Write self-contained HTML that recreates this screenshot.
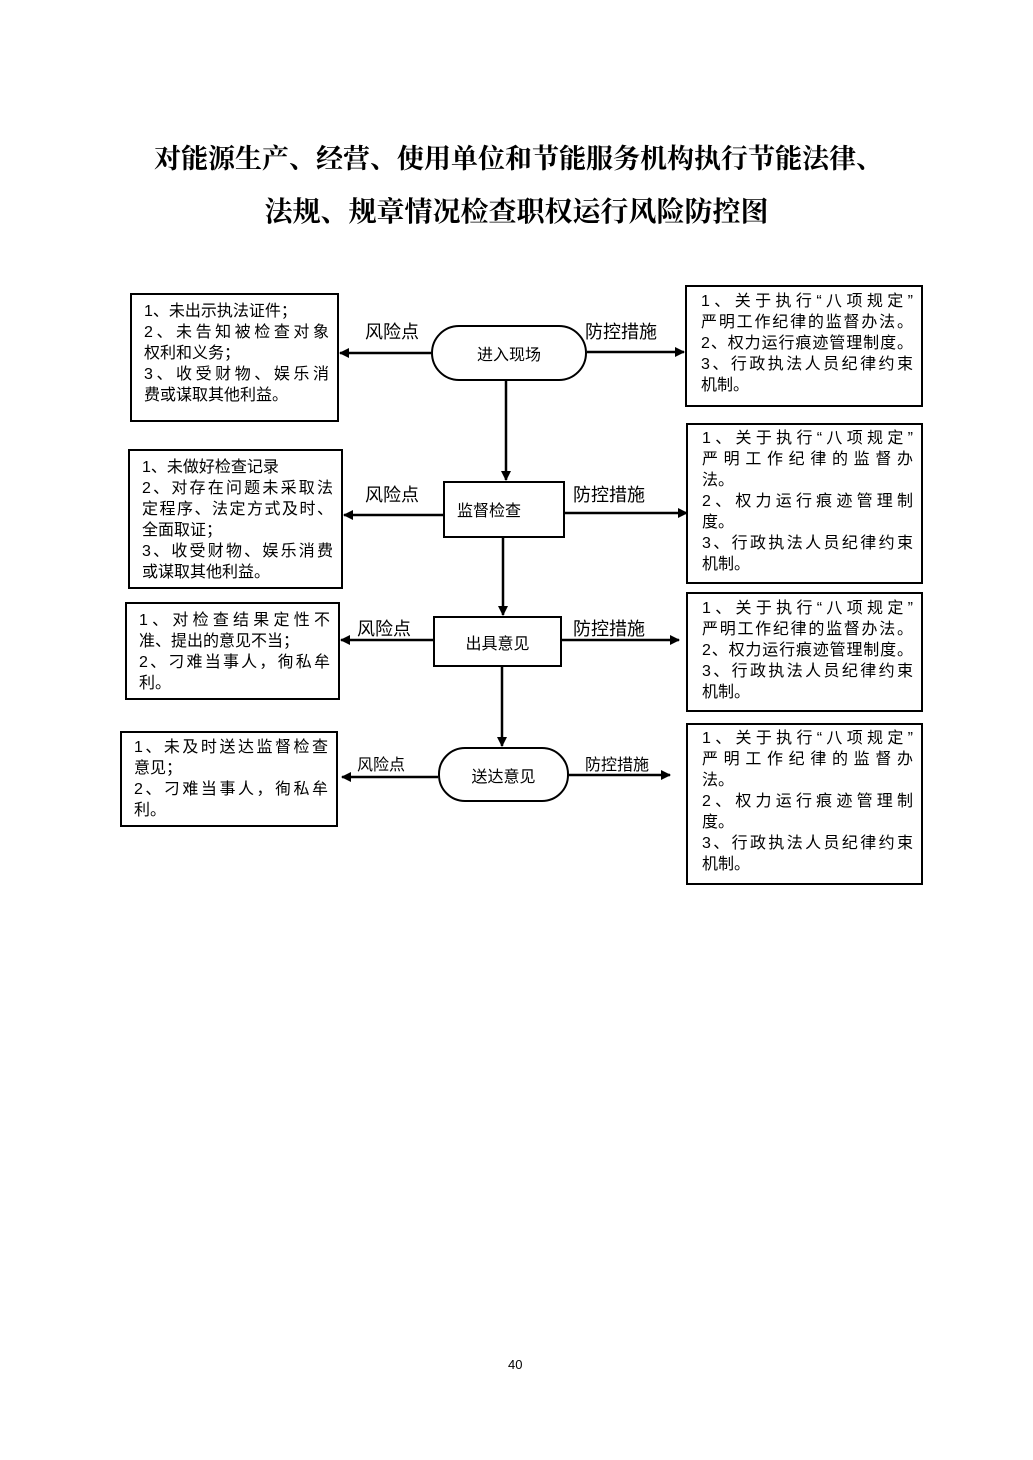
<!DOCTYPE html>
<html><head><meta charset="utf-8"><style>
body{margin:0;background:#fff;}
#p{position:relative;width:1033px;height:1460px;overflow:hidden;font-family:"Liberation Sans","Noto Sans CJK SC",sans-serif;color:#000;}
.t{position:absolute;left:0;width:1033px;text-align:center;font-size:28px;font-weight:bold;font-family:"Liberation Sans","Noto Serif CJK SC",serif;}
.b{position:absolute;border:2px solid #000;box-sizing:border-box;font-size:16px;line-height:21px;padding:4px 8px 0 12px;white-space:nowrap;}
.b div{height:21px;}
.j{text-align:justify;text-align-last:justify;}
.n{position:absolute;border:2px solid #000;box-sizing:border-box;font-size:16px;display:flex;align-items:center;justify-content:center;}
.l{position:absolute;font-size:18px;}
</style></head><body><div id="p">
<div class="t" style="top:137px;font-size:27px;padding-left:4px;box-sizing:border-box">对能源生产、经营、使用单位和节能服务机构执行节能法律、</div>
<div class="t" style="top:190px">法规、规章情况检查职权运行风险防控图</div>

<svg style="position:absolute;left:0;top:0" width="1033" height="1460">
<defs><marker id="a" markerWidth="10" markerHeight="10" refX="9" refY="5" orient="auto" markerUnits="userSpaceOnUse"><path d="M0,0 L10,5 L0,10 z" fill="#000"/></marker></defs>
<g stroke="#000" stroke-width="2.5" marker-end="url(#a)">
<line x1="506" y1="380" x2="506" y2="480"/>
<line x1="503" y1="537" x2="503" y2="615"/>
<line x1="502" y1="667" x2="502" y2="746"/>
<line x1="431" y1="353" x2="340" y2="353"/>
<line x1="587" y1="352" x2="684" y2="352"/>
<line x1="443" y1="515" x2="344" y2="515"/>
<line x1="565" y1="513" x2="687" y2="513"/>
<line x1="433" y1="640" x2="341" y2="640"/>
<line x1="562" y1="640" x2="679" y2="640"/>
<line x1="438" y1="777" x2="342" y2="777"/>
<line x1="569" y1="775" x2="670" y2="775"/>
</g></svg>

<div class="n" style="left:431px;top:325px;width:156px;height:56px;border-radius:28px">进入现场</div>
<div class="n" style="left:443px;top:481px;width:122px;height:57px;justify-content:flex-start;padding-left:12px;align-items:flex-start;padding-top:14px">监督检查</div>
<div class="n" style="left:433px;top:616px;width:129px;height:51px">出具意见</div>
<div class="n" style="left:438px;top:747px;width:131px;height:55px;border-radius:27px">送达意见</div>

<div class="l" style="left:365px;top:318px">风险点</div><div class="l" style="left:585px;top:318px">防控措施</div>
<div class="l" style="left:365px;top:481px">风险点</div><div class="l" style="left:573px;top:481px">防控措施</div>
<div class="l" style="left:357px;top:615px">风险点</div><div class="l" style="left:573px;top:615px">防控措施</div>
<div class="l" style="left:357px;top:751px;font-size:16px">风险点</div><div class="l" style="left:585px;top:751px;font-size:16px">防控措施</div>

<div class="b" style="left:130px;top:293px;width:209px;height:129px;padding-top:6px">
<div>1、未出示执法证件；</div><div class="j">2、未告知被检查对象</div><div>权利和义务；</div><div class="j">3、收受财物、娱乐消</div><div>费或谋取其他利益。</div></div>
<div class="b" style="left:128px;top:449px;width:215px;height:140px;padding-top:6px">
<div>1、未做好检查记录</div><div class="j">2、对存在问题未采取法</div><div class="j">定程序、法定方式及时、</div><div>全面取证；</div><div class="j">3、收受财物、娱乐消费</div><div>或谋取其他利益。</div></div>
<div class="b" style="left:125px;top:602px;width:215px;height:98px;padding-top:6px">
<div class="j">1、对检查结果定性不</div><div>准、提出的意见不当；</div><div class="j">2、刁难当事人，徇私牟</div><div>利。</div></div>
<div class="b" style="left:120px;top:731px;width:218px;height:96px;padding-top:4px">
<div class="j">1、未及时送达监督检查</div><div>意见；</div><div class="j">2、刁难当事人，徇私牟</div><div>利。</div></div>

<div class="b" style="left:685px;top:285px;width:238px;height:122px;padding-left:14px;padding-right:8px">
<div class="j">1、关于执行“八项规定”</div><div class="j">严明工作纪律的监督办法。</div><div class="j">2、权力运行痕迹管理制度。</div><div class="j">3、行政执法人员纪律约束</div><div>机制。</div></div>
<div class="b" style="left:686px;top:423px;width:237px;height:161px;padding-left:14px;padding-right:8px;line-height:20.5px">
<div class="j">1、关于执行“八项规定”</div><div class="j">严明工作纪律的监督办</div><div>法。</div><div class="j">2、权力运行痕迹管理制</div><div>度。</div><div class="j">3、行政执法人员纪律约束</div><div>机制。</div></div>
<div class="b" style="left:686px;top:592px;width:237px;height:120px;padding-left:14px;padding-right:8px">
<div class="j">1、关于执行“八项规定”</div><div class="j">严明工作纪律的监督办法。</div><div class="j">2、权力运行痕迹管理制度。</div><div class="j">3、行政执法人员纪律约束</div><div>机制。</div></div>
<div class="b" style="left:686px;top:723px;width:237px;height:162px;padding-left:14px;padding-right:8px;line-height:20.5px">
<div class="j">1、关于执行“八项规定”</div><div class="j">严明工作纪律的监督办</div><div>法。</div><div class="j">2、权力运行痕迹管理制</div><div>度。</div><div class="j">3、行政执法人员纪律约束</div><div>机制。</div></div>

<div style="position:absolute;left:508px;top:1357px;font-size:13px">40</div>
</div></body></html>
